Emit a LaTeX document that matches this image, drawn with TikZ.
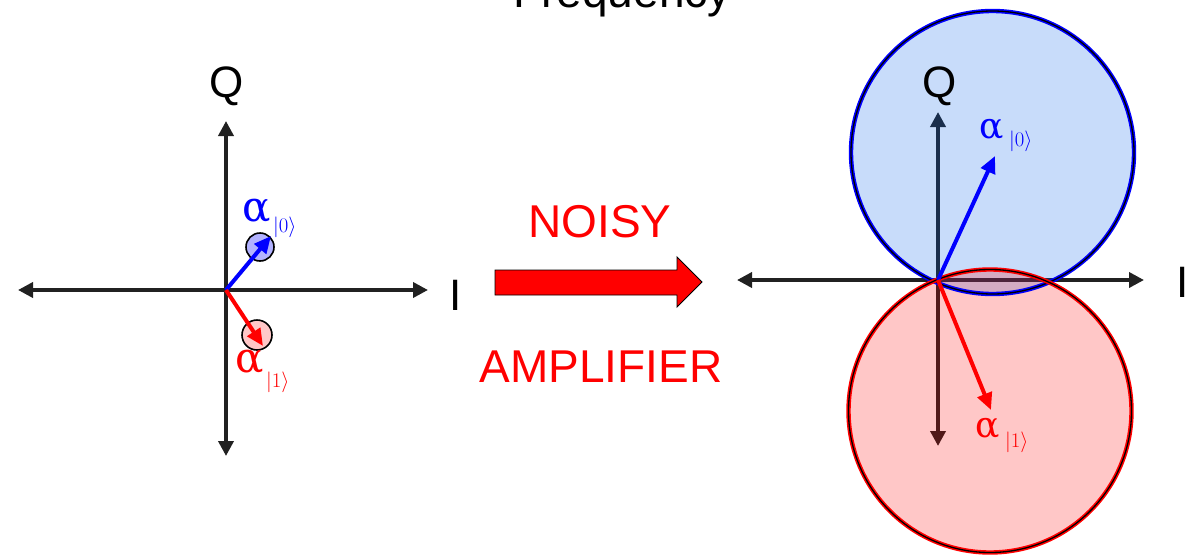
\documentclass[tikz,border=0pt]{standalone}
\usepackage{fontspec}
\setmainfont{Liberation Sans}
\newfontfamily\greekserif{DejaVu Serif}
\usetikzlibrary{arrows.meta}
\definecolor{bluefill}{RGB}{5,95,232}
\tikzset{
  axis/.style={line width=3.6pt, draw=black!87, {Triangle[length=15pt,width=15pt]}-{Triangle[length=15pt,width=15pt]}},
  vec/.style={line width=4pt, -{Triangle[length=17pt,width=15pt]}},
  biglabel/.style={font=\fontsize{44}{48}\selectfont, anchor=base, inner sep=0pt},
  redlabel/.style={biglabel, text=red, font=\fontsize{46}{50}\selectfont},
  alph/.style={font=\greekserif\fontsize{42}{44}\selectfont, anchor=base, inner sep=0pt},
  alphs/.style={font=\greekserif\fontsize{36}{40}\selectfont, anchor=base, inner sep=0pt},
  subs/.style={font=\fontsize{22}{24}\selectfont, anchor=base west, inner sep=0pt},
  subss/.style={font=\fontsize{21}{23}\selectfont, anchor=base west, inner sep=0pt},
  smallblob/.style={line width=1.6pt, draw=black},
}
\begin{document}
\begin{tikzpicture}[x=1pt,y=-1pt]
\useasboundingbox (0,0) rectangle (1204,554);
\begin{scope}
\clip (0,0) rectangle (1204,554);
% title (cut off at the top edge, as in the reference)
\node[biglabel, font=\fontsize{46}{50}\selectfont] (freq) at (622,8) {Frequency};

% ---------- left diagram ----------
\coordinate (O1) at (226,290);
\coordinate (L1) at (18,290);
\coordinate (R1) at (428,290);
\coordinate (T1) at (226,121);
\coordinate (B1) at (226,456);
\draw[axis] (L1) -- (R1);
\draw[axis] (T1) -- (B1);
\node[biglabel] (Q1) at (227,97) {Q};
\node[biglabel] (I1) at (456,310) {I};

\node[smallblob, circle, fill=blue!30, minimum size=28pt, inner sep=0pt] (c0) at (260,247) {};
\node[smallblob, circle, fill=red!22, minimum size=30pt, inner sep=0pt] (c1) at (257,335) {};
\draw[vec, blue] (O1) -- (271,236);
\draw[vec, red] (O1) -- (263,346);

\node[alph, text=blue] (a0) at (257,221) {α};
\node[subs, text=blue] (s0) at (273,232) {$|0\rangle$};
\node[alph, text=red] (a1) at (250,372) {α};
\node[subs, text=red] (s1) at (266,387) {$|1\rangle$};

% ---------- middle ----------
\node[redlabel] (noisy) at (600,237) {NOISY};
\node[redlabel] (amp) at (601,382) {AMPLIFIER};
\draw[fill=red, draw=black, line width=0.9pt]
  (495,270) -- (677,270) -- (677,257) -- (702,282) -- (677,307) -- (677,295) -- (495,295) -- cycle;

% ---------- right diagram ----------
\coordinate (O2) at (938,280);
\coordinate (L2) at (737,280);
\coordinate (R2) at (1144,280);
\coordinate (T2) at (938,112);
\coordinate (B2) at (938,446);
\draw[axis] (L2) -- (R2);
\draw[axis] (T2) -- (B2);

\fill[bluefill, fill opacity=0.22] (992.5,152.5) circle (141.5);
\fill[red, fill opacity=0.22] (990,411) circle (141.5);
\draw[blue, line width=4.4pt] (992.5,152.5) circle (141.5);
\draw[black, line width=1.3pt] (992.5,152.5) circle (141.5);
\draw[red, line width=4.4pt] (990,411) circle (141.5);
\draw[black, line width=1.3pt] (990,411) circle (141.5);

\draw[vec, blue] (O2) -- (995,156);
\draw[vec, red] (O2) -- (991,410);

\node[biglabel] (Q2) at (940,97) {Q};
\node[biglabel] (I2) at (1183,297) {I};
\node[alphs, text=blue] (a2) at (992,138) {α};
\node[subss, text=blue] (s2) at (1009,146) {$|0\rangle$};
\node[alphs, text=red] (a3) at (988,437) {α};
\node[subss, text=red] (s3) at (1005,447) {$|1\rangle$};
\end{scope}
\end{tikzpicture}
\end{document}
